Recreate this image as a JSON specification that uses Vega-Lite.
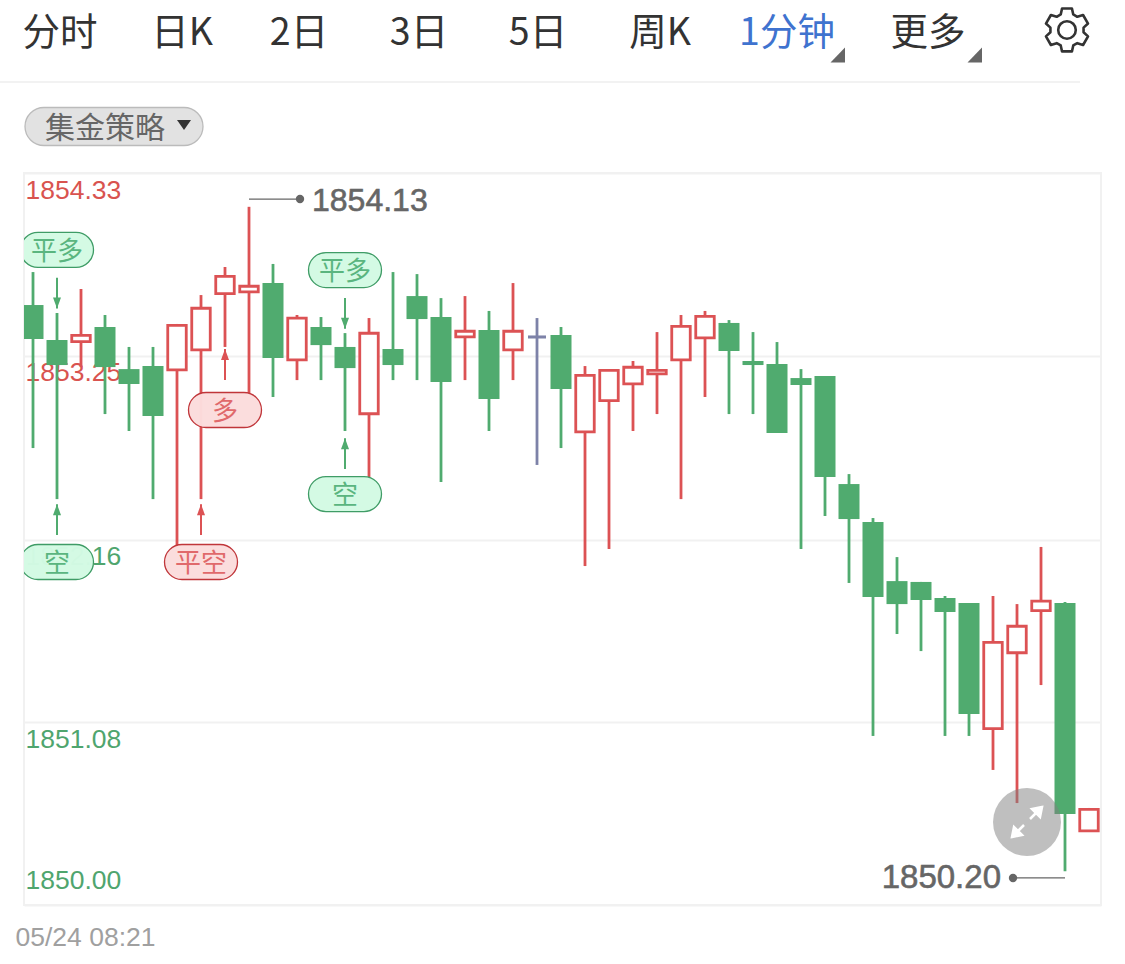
{
"$schema":"https://vega.github.io/schema/vega-lite/v6.json",
"width":1077,"height":732,"autosize":"none",
"padding":{"left":24,"top":173,"right":24,"bottom":59},
"background":"#ffffff",
"view":{"stroke":"#f1f1f1","strokeWidth":2},
"datasets":{
"candles":[
{"i":0,"dir":"down","open":1853.549,"close":1853.348,"high":1853.744,"low":1852.703},
{"i":1,"dir":"down","open":1853.342,"close":1853.194,"high":1853.502,"low":1852.401},
{"i":2,"dir":"up","open":1853.332,"close":1853.370,"high":1853.644,"low":1853.182},
{"i":3,"dir":"down","open":1853.419,"close":1853.182,"high":1853.490,"low":1852.904},
{"i":4,"dir":"down","open":1853.170,"close":1853.082,"high":1853.301,"low":1852.804},
{"i":5,"dir":"down","open":1853.188,"close":1852.892,"high":1853.301,"low":1852.401},
{"i":6,"dir":"up","open":1853.166,"close":1853.429,"high":1853.437,"low":1852.112},
{"i":7,"dir":"up","open":1853.284,"close":1853.530,"high":1853.608,"low":1852.401},
{"i":8,"dir":"up","open":1853.616,"close":1853.719,"high":1853.774,"low":1853.301},
{"i":9,"dir":"up","open":1853.627,"close":1853.660,"high":1854.13,"low":1853.028},
{"i":10,"dir":"down","open":1853.679,"close":1853.236,"high":1853.792,"low":1853.005},
{"i":11,"dir":"up","open":1853.225,"close":1853.471,"high":1853.490,"low":1853.105},
{"i":12,"dir":"down","open":1853.419,"close":1853.312,"high":1853.478,"low":1853.105},
{"i":13,"dir":"down","open":1853.301,"close":1853.176,"high":1853.383,"low":1852.804},
{"i":14,"dir":"up","open":1852.906,"close":1853.382,"high":1853.472,"low":1852.526},
{"i":15,"dir":"down","open":1853.289,"close":1853.194,"high":1853.744,"low":1853.105},
{"i":16,"dir":"down","open":1853.602,"close":1853.466,"high":1853.732,"low":1853.105},
{"i":17,"dir":"down","open":1853.478,"close":1853.094,"high":1853.590,"low":1852.502},
{"i":18,"dir":"up","open":1853.361,"close":1853.394,"high":1853.602,"low":1853.105},
{"i":19,"dir":"down","open":1853.401,"close":1852.993,"high":1853.514,"low":1852.804},
{"i":20,"dir":"up","open":1853.284,"close":1853.394,"high":1853.679,"low":1853.105},
{"i":21,"dir":"flat","open":1853.369,"close":1853.351,"high":1853.472,"low":1852.603},
{"i":22,"dir":"down","open":1853.372,"close":1853.052,"high":1853.419,"low":1852.703},
{"i":23,"dir":"up","open":1852.799,"close":1853.133,"high":1853.188,"low":1852.005},
{"i":24,"dir":"up","open":1852.983,"close":1853.163,"high":1853.170,"low":1852.106},
{"i":25,"dir":"up","open":1853.083,"close":1853.181,"high":1853.218,"low":1852.804},
{"i":26,"dir":"up","open":1853.142,"close":1853.163,"high":1853.389,"low":1852.904},
{"i":27,"dir":"up","open":1853.225,"close":1853.423,"high":1853.490,"low":1852.401},
{"i":28,"dir":"up","open":1853.355,"close":1853.482,"high":1853.514,"low":1853.005},
{"i":29,"dir":"down","open":1853.443,"close":1853.277,"high":1853.460,"low":1852.904},
{"i":30,"dir":"down","open":1853.218,"close":1853.194,"high":1853.389,"low":1852.904},
{"i":31,"dir":"down","open":1853.200,"close":1852.792,"high":1853.330,"low":1852.792},
{"i":32,"dir":"down","open":1853.117,"close":1853.076,"high":1853.170,"low":1852.106},
{"i":33,"dir":"down","open":1853.129,"close":1852.532,"high":1853.129,"low":1852.301},
{"i":34,"dir":"down","open":1852.490,"close":1852.283,"high":1852.549,"low":1851.905},
{"i":35,"dir":"down","open":1852.265,"close":1851.822,"high":1852.289,"low":1851.000},
{"i":36,"dir":"down","open":1851.916,"close":1851.780,"high":1852.058,"low":1851.603},
{"i":37,"dir":"down","open":1851.911,"close":1851.804,"high":1851.911,"low":1851.502},
{"i":38,"dir":"down","open":1851.816,"close":1851.733,"high":1851.828,"low":1851.000},
{"i":39,"dir":"down","open":1851.786,"close":1851.130,"high":1851.786,"low":1851.000},
{"i":40,"dir":"up","open":1851.043,"close":1851.554,"high":1851.828,"low":1850.799},
{"i":41,"dir":"up","open":1851.492,"close":1851.649,"high":1851.780,"low":1850.603},
{"i":42,"dir":"up","open":1851.741,"close":1851.797,"high":1852.118,"low":1851.301},
{"i":43,"dir":"down","open":1851.786,"close":1850.538,"high":1851.792,"low":1850.20},
{"i":44,"dir":"up","open":1850.439,"close":1850.566,"high":1850.574,"low":1850.432}
],
"signals":[
{"i":1,"price":1853.875,"label":"平多","side":"down","tip":1853.528,"tail":1853.710,"head":"down"},
{"i":1,"price":1852.029,"label":"空","side":"down","tip":1852.371,"tail":1852.188,"head":"up"},
{"i":7,"price":1852.029,"label":"平空","side":"up","tip":1852.371,"tail":1852.188,"head":"up"},
{"i":8,"price":1852.928,"label":"多","side":"up","tip":1853.289,"tail":1853.105,"head":"up"},
{"i":13,"price":1853.756,"label":"平多","side":"down","tip":1853.408,"tail":1853.590,"head":"down"},
{"i":13,"price":1852.431,"label":"空","side":"down","tip":1852.761,"tail":1852.579,"head":"up"}
],
"extremes":[
{"from":9,"to":11.125,"level":1854.176,"textAt":11.625,"textLevel":1854.164,"label":"1854.13","align":"left"},
{"from":43,"to":40.833,"level":1850.16,"textAt":40.333,"textLevel":1850.16,"label":"1850.20","align":"right"}
],
"tabs":[
{"tab":"分时","at":1.125,"state":"idle"},
{"tab":"日K","at":6.208,"state":"idle"},
{"tab":"2日","at":11.083,"state":"idle"},
{"tab":"3日","at":16.083,"state":"idle"},
{"tab":"5日","at":21.042,"state":"idle"},
{"tab":"周K","at":26.125,"state":"idle"},
{"tab":"1分钟","at":31.417,"state":"active"},
{"tab":"更多","at":37.292,"state":"idle"}
]
},
"layer":[
{"data":{"name":"candles"},
 "mark":{"type":"rule","strokeWidth":2.8,"clip":true},
 "encoding":{
  "x":{"field":"i","type":"quantitative","scale":{"domain":[-0.375,44.5],"nice":false,"zero":false,"padding":0},"title":null,
   "axis":{"values":[0],"labelExpr":"'05/24 08:21'","ticks":false,"domain":false,"grid":false,"labelAlign":"left","labelBaseline":"middle","labelOffset":-18,"labelPadding":32,"labelFont":"Liberation Sans","labelFontSize":26.5,"labelColor":"#a0a0a0"}},
  "y":{"field":"low","type":"quantitative","scale":{"domain":[1850,1854.33],"nice":false,"zero":false},"title":null,
   "axis":{"values":[1854.33,1853.25,1852.16,1851.08,1850],"format":".2f","ticks":false,"domain":false,"grid":true,"gridColor":"#f1f1f1","gridWidth":2,"labelAlign":"left","labelBaseline":"middle","labelPadding":-1,"labelFont":"Liberation Sans","labelFontSize":26.5,"labelOverlap":false,"labelFlush":false,
    "labelOffset":{"condition":{"test":"datum.value==1850","value":-25},"value":17},
    "labelColor":{"condition":{"test":"datum.value>=1853","value":"#d9534f"},"value":"#4fa56e"}}},
  "y2":{"field":"high"},
  "color":{"field":"dir","type":"nominal","scale":{"domain":["down","up","flat"],"range":["#50ab6f","#dc5254","#7d82a8"]},"legend":null}
 }},
{"data":{"name":"candles"},"transform":[{"filter":"datum.dir=='down'"}],
 "mark":{"type":"bar","size":21,"color":"#50ab6f","clip":true},
 "encoding":{"x":{"field":"i","type":"quantitative"},"y":{"field":"open","type":"quantitative"},"y2":{"field":"close"}}},
{"data":{"name":"candles"},"transform":[{"filter":"datum.dir=='up'"}],
 "mark":{"type":"bar","size":18.5,"fill":"#ffffff","stroke":"#dc5254","strokeWidth":2.8,"clip":true},
 "encoding":{"x":{"field":"i","type":"quantitative"},"y":{"field":"open","type":"quantitative"},"y2":{"field":"close"}}},
{"data":{"name":"candles"},"transform":[{"filter":"datum.dir=='flat'"}],
 "mark":{"type":"bar","size":18,"color":"#7d82a8","clip":true},
 "encoding":{"x":{"field":"i","type":"quantitative"},"y":{"field":"open","type":"quantitative"},"y2":{"field":"close"}}},
{"data":{"name":"signals"},
 "mark":{"type":"rule","strokeWidth":2},
 "encoding":{"x":{"field":"i","type":"quantitative"},"y":{"field":"tip","type":"quantitative"},"y2":{"field":"tail"},
  "color":{"condition":{"test":"datum.side=='up'","value":"#dc5254"},"value":"#50ab6f"}}},
{"data":{"name":"signals"},"transform":[{"filter":"datum.head=='up'"}],
 "mark":{"type":"point","shape":"M0,0L4,11L-4,11Z","size":4,"filled":true,"opacity":1},
 "encoding":{"x":{"field":"i","type":"quantitative"},"y":{"field":"tip","type":"quantitative"},
  "color":{"condition":{"test":"datum.side=='up'","value":"#dc5254"},"value":"#50ab6f"}}},
{"data":{"name":"signals"},"transform":[{"filter":"datum.head=='down'"}],
 "mark":{"type":"point","shape":"M0,0L4,-11L-4,-11Z","size":4,"filled":true,"opacity":1},
 "encoding":{"x":{"field":"i","type":"quantitative"},"y":{"field":"tip","type":"quantitative"},
  "color":{"condition":{"test":"datum.side=='up'","value":"#dc5254"},"value":"#50ab6f"}}},
{"data":{"name":"signals"},
 "mark":{"type":"point","shape":"M-19,-17.5H19A17.5,17.5 0 0 1 19,17.5H-19A17.5,17.5 0 0 1 -19,-17.5Z","size":4,"filled":false,"strokeWidth":1.3,"opacity":1,"fillOpacity":0.98,"clip":true},
 "encoding":{"x":{"field":"i","type":"quantitative"},"y":{"field":"price","type":"quantitative"},
  "fill":{"condition":{"test":"datum.side=='up'","value":"#fbdcdc"},"value":"#d3fae3"},
  "stroke":{"condition":{"test":"datum.side=='up'","value":"#c0363a"},"value":"#3f9c66"}}},
{"data":{"name":"signals"},
 "mark":{"type":"text","font":"Noto Sans CJK SC","fontSize":26,"align":"center","baseline":"middle","dy":2},
 "encoding":{"x":{"field":"i","type":"quantitative"},"y":{"field":"price","type":"quantitative"},"text":{"field":"label"},
  "color":{"condition":{"test":"datum.side=='up'","value":"#e0696b"},"value":"#5ab57f"}}},
{"data":{"name":"extremes"},
 "mark":{"type":"rule","strokeWidth":1.3,"color":"#666666"},
 "encoding":{"x":{"field":"from","type":"quantitative"},"x2":{"field":"to"},"y":{"field":"level","type":"quantitative"}}},
{"data":{"name":"extremes"},
 "mark":{"type":"point","shape":"circle","size":70,"filled":true,"color":"#666666","opacity":1},
 "encoding":{"x":{"field":"to","type":"quantitative"},"y":{"field":"level","type":"quantitative"}}},
{"data":{"name":"extremes"},"transform":[{"filter":"datum.align=='left'"}],
 "mark":{"type":"text","font":"Liberation Sans","fontSize":32,"align":"left","baseline":"middle","color":"#666666","stroke":"#666666","strokeWidth":0.6},
 "encoding":{"x":{"field":"textAt","type":"quantitative"},"y":{"field":"textLevel","type":"quantitative"},"text":{"field":"label"}}},
{"data":{"name":"extremes"},"transform":[{"filter":"datum.align=='right'"}],
 "mark":{"type":"text","font":"Liberation Sans","fontSize":33,"align":"right","baseline":"middle","color":"#666666","stroke":"#666666","strokeWidth":0.6},
 "encoding":{"x":{"field":"textAt","type":"quantitative"},"y":{"field":"textLevel","type":"quantitative"},"text":{"field":"label"}}},
{"data":{"values":[{"at":41.417,"level":1850.491}]},
 "mark":{"type":"point","shape":"circle","size":4624,"filled":true,"color":"#7f7f7f","opacity":0.5},
 "encoding":{"x":{"field":"at","type":"quantitative"},"y":{"field":"level","type":"quantitative"}}},
{"data":{"values":[{"at":41.417,"level":1850.491}]},
 "mark":{"type":"point","shape":"M15,-15L5,-13L13,-5ZM3,-3L10,-10M-15,15L-5,13L-13,5ZM-3,3L-10,10","size":4,"filled":true,"color":"#ffffff","stroke":"#ffffff","strokeWidth":2.5,"opacity":1},
 "encoding":{"x":{"field":"at","type":"quantitative"},"y":{"field":"level","type":"quantitative"}}},
{"data":{"values":[{"from":-1.375,"to":43.625,"level":1854.868}]},
 "mark":{"type":"rule","strokeWidth":2,"color":"#f2f2f2"},
 "encoding":{"x":{"field":"from","type":"quantitative"},"x2":{"field":"to"},"y":{"field":"level","type":"quantitative"}}},
{"data":{"name":"tabs"},
 "mark":{"type":"text","font":"Noto Sans CJK SC","fontSize":37.5,"align":"center","baseline":"middle","dy":2},
 "encoding":{"x":{"field":"at","type":"quantitative"},"y":{"datum":1855.164,"type":"quantitative"},"text":{"field":"tab"},
  "color":{"condition":{"test":"datum.state=='active'","value":"#3f73cf"},"value":"#333333"}}},
{"data":{"values":[{"at":33.542,"level":1855.028},{"at":39.25,"level":1855.028}]},
 "mark":{"type":"point","shape":"M7,-7.5V7.5H-7.5Z","size":4,"filled":true,"color":"#666666","opacity":1},
 "encoding":{"x":{"field":"at","type":"quantitative"},"y":{"field":"level","type":"quantitative"}}},
{"data":{"values":[{"at":43.083,"level":1855.176}]},
 "mark":{"type":"point","shape":"M-.285,-.705L-.225,-.974L.225,-.974L.285,-.705L.468,-.599L.731,-.682L.956,-.292L.753,-.106L.753,.106L.956,.292L.731,.682L.468,.599L.285,.705L.225,.974L-.225,.974L-.285,.705L-.468,.599L-.731,.682L-.956,.292L-.753,.106L-.753,-.106L-.956,-.292L-.731,-.682L-.468,-.599ZM.4,0A.4,.4 0 1 1 -.4,0A.4,.4 0 1 1 .4,0Z","size":1936,"filled":false,"stroke":"#333333","strokeWidth":2.6,"strokeJoin":"round","opacity":1},
 "encoding":{"x":{"field":"at","type":"quantitative"},"y":{"field":"level","type":"quantitative"}}},
{"data":{"values":[{"at":3.375,"level":1854.605}]},
 "mark":{"type":"point","shape":"M-70,-19H70A19,19 0 0 1 70,19H-70A19,19 0 0 1 -70,-19Z","size":4,"filled":true,"fill":"#e2e2e2","stroke":"#bbbbbb","strokeWidth":1.3,"opacity":1},
 "encoding":{"x":{"field":"at","type":"quantitative"},"y":{"field":"level","type":"quantitative"}}},
{"data":{"values":[{"at":3.0,"level":1854.6,"label":"集金策略"}]},
 "mark":{"type":"text","font":"Noto Sans CJK SC","fontSize":30,"align":"center","baseline":"middle","color":"#666666","dy":2},
 "encoding":{"x":{"field":"at","type":"quantitative"},"y":{"field":"level","type":"quantitative"},"text":{"field":"label"}}},
{"data":{"values":[{"at":6.292,"level":1854.614}]},
 "mark":{"type":"point","shape":"M-7,-5H7L0,5Z","size":4,"filled":true,"color":"#333333","opacity":1},
 "encoding":{"x":{"field":"at","type":"quantitative"},"y":{"field":"level","type":"quantitative"}}}
]
}
